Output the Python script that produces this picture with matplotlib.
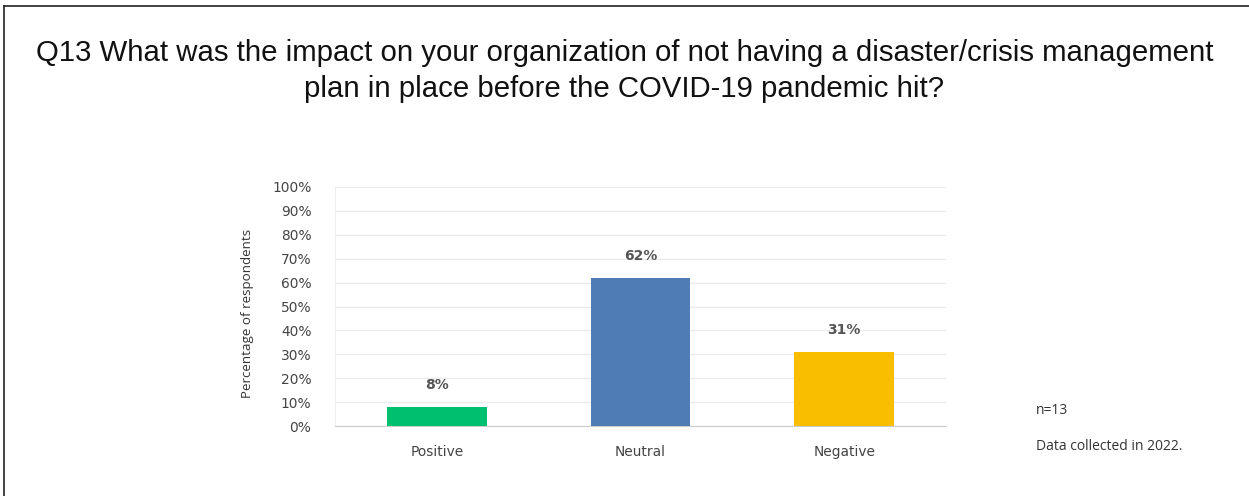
import matplotlib.pyplot as plt
from matplotlib.lines import Line2D

categories = ['Positive', 'Neutral', 'Negative']
percentages = [8, 62, 31]
bar_colors = ['#00BF6F', '#507CB6', '#F9BE00']
y_ticks = [0, 10, 20, 30, 40, 50, 60, 70, 80, 90, 100]

fig = plt.figure(figsize=(12.49, 4.96), dpi=100)
W, H = 1249, 496

# frame around the slide (left and top edges only)
fig.add_artist(Line2D([4 / W, 4 / W], [0, 1 - 6 / H], color='#222222', lw=1.2))
fig.add_artist(Line2D([4 / W, 1], [1 - 6 / H, 1 - 6 / H], color='#222222', lw=1.2))

fig.text(0.5, 1 - 53 / H, 'Q13 What was the impact on your organization of not having a disaster/crisis management',
         ha='center', va='center', fontsize=21.2, family='Liberation Sans', color='#111111')
fig.text(0.5, 1 - 89 / H, 'plan in place before the COVID-19 pandemic hit?',
         ha='center', va='center', fontsize=21.2, family='Liberation Sans', color='#111111')

ax = fig.add_axes([335 / W, 1 - 426 / H, (946 - 335) / W, (426 - 187) / H])
x = list(range(len(categories)))
ax.bar(x, percentages, width=0.49, color=bar_colors, zorder=3)
for xi, v in zip(x, percentages):
    ax.text(xi, v + 9, f'{v}%', ha='center', va='center', fontsize=10,
            fontweight='semibold', color='#555555', family='DejaVu Sans')

ax.set_xlim(-0.5, 2.5)
ax.set_ylim(0, 100)
ax.set_yticks(y_ticks)
ax.set_yticklabels([f'{t}%' for t in y_ticks])
ax.set_xticks(x)
ax.set_xticklabels(categories)
ax.yaxis.grid(True, color='#EBEBEB', lw=1, zorder=0)
ax.tick_params(length=0, labelsize=9.9, labelcolor='#444444')
ax.tick_params(axis='x', pad=14)
ax.tick_params(axis='y', pad=17)
for lbl in ax.get_xticklabels() + ax.get_yticklabels():
    lbl.set_family('DejaVu Sans')
for side in ['top', 'right']:
    ax.spines[side].set_visible(False)
ax.spines['bottom'].set_color('#CCCCCC')
ax.spines['left'].set_color('#EEEEEE')

fig.text(247 / W, 1 - 313 / H, 'Percentage of respondents', rotation=90, ha='center', va='center',
         fontsize=9.6, color='#333333', family='Open Sans')
fig.text(1036 / W, 1 - 411 / H, 'n=13', ha='left', va='center', fontsize=10,
         color='#333333', family='Open Sans')
fig.text(1036 / W, 1 - 447 / H, 'Data collected in 2022.', ha='left', va='center', fontsize=10,
         color='#333333', family='Open Sans')

fig.savefig('out.png', dpi=100)
